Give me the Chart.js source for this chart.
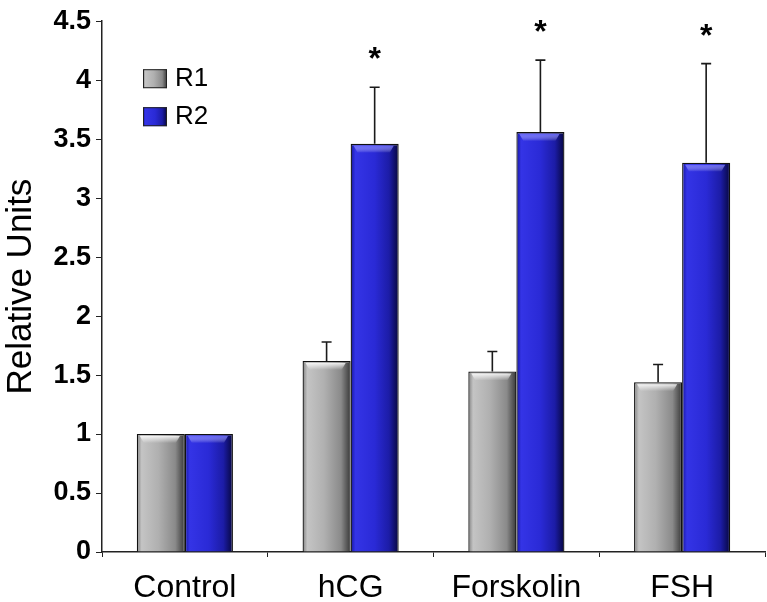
<!DOCTYPE html>
<html>
<head>
<meta charset="utf-8">
<script src="https://cdn.jsdelivr.net/npm/chart.js@4"></script>
<style>
  body { margin: 0; background: #fff; }
  #wrap { width: 767px; height: 602px; position: relative; }
</style>
</head>
<body>
<div id="wrap"><canvas id="chart"></canvas></div>
<script>
// values
const categories = ['Control', 'hCG', 'Forskolin', 'FSH'];
const r1Values = [1.0, 1.62, 1.53, 1.44];
const r2Values = [1.0, 3.46, 3.56, 3.30];
const r1Errors = [0, 0.16, 0.17, 0.15];
const r2Errors = [0, 0.48, 0.61, 0.84];
const r2Marks = ['', '*', '*', '*'];
const yTickLabels = ['0', '0.5', '1', '1.5', '2', '2.5', '3', '3.5', '4', '4.5'];

const FONT = "'Liberation Sans', Arial, sans-serif";

const grayStops = [[0, '#808080'], [0.1, '#c4c4c4'], [0.45, '#b0b0b0'], [0.8, '#8a8a8a'], [1, '#383838']];
const blueStops = [[0, '#1616a0'], [0.1, '#3434e6'], [0.5, '#2a2ad6'], [0.8, '#1c1ca6'], [1, '#06063e']];

function makeGradient(ctx, x0, x1, stops) {
    const g = ctx.createLinearGradient(x0, 0, x1, 0);
    stops.forEach(s => g.addColorStop(s[0], s[1]));
    return g;
}

// bevelled fill for the bars, set once the bars know where they are
const bevelPlugin = {
    id: 'bevel',
    beforeDatasetsDraw(chart) {
        const ctx = chart.ctx;
        chart.data.datasets.forEach((ds, di) => {
            const stops = di === 0 ? grayStops : blueStops;
            chart.getDatasetMeta(di).data.forEach(bar => {
                const left = bar.x - bar.width / 2;
                bar.options.backgroundColor = makeGradient(ctx, left, left + bar.width, stops);
            });
        });
    },
    afterDatasetsDraw(chart) {
        const ctx = chart.ctx;
        ctx.save();
        chart.data.datasets.forEach((ds, di) => {
            chart.getDatasetMeta(di).data.forEach(bar => {
                const left = bar.x - bar.width / 2;
                const g = ctx.createLinearGradient(0, bar.y + 2, 0, bar.y + 9);
                g.addColorStop(0, di === 0 ? 'rgba(255,255,255,0.85)' : 'rgba(110,110,255,0.85)');
                g.addColorStop(1, 'rgba(255,255,255,0)');
                ctx.fillStyle = g;
                ctx.beginPath();
                ctx.moveTo(left + 3, bar.y + 2);
                ctx.lineTo(left + bar.width - 5, bar.y + 2);
                ctx.lineTo(left + bar.width - 9, bar.y + 9);
                ctx.lineTo(left + 7, bar.y + 9);
                ctx.closePath();
                ctx.fill();
            });
        });
        ctx.restore();
    }
};

// upper error bars and significance marks
const errorPlugin = {
    id: 'errors',
    afterDatasetsDraw(chart) {
        const ctx = chart.ctx;
        const y = chart.scales.y;
        const errs = [r1Errors, r2Errors];
        ctx.save();
        ctx.strokeStyle = '#1a1a1a';
        ctx.lineWidth = 1.6;
        chart.data.datasets.forEach((ds, di) => {
            chart.getDatasetMeta(di).data.forEach((bar, i) => {
                const e = errs[di][i];
                if (!e) return;
                const top = y.getPixelForValue(ds.data[i] + e);
                ctx.beginPath();
                ctx.moveTo(bar.x, bar.y);
                ctx.lineTo(bar.x, top);
                ctx.moveTo(bar.x - 5, top);
                ctx.lineTo(bar.x + 5, top);
                ctx.stroke();
                if (di === 1 && r2Marks[i]) {
                    ctx.fillStyle = '#000';
                    ctx.font = 'bold 32px ' + FONT;
                    ctx.textAlign = 'center';
                    ctx.textBaseline = 'alphabetic';
                    ctx.fillText(r2Marks[i], bar.x, top - 18);
                }
            });
        });
        ctx.restore();
    }
};

// legend sits inside the plot, top left
const insideLegend = {
    id: 'insideLegend',
    afterDraw(chart) {
        const ctx = chart.ctx;
        const area = chart.chartArea;
        ctx.save();
        chart.data.datasets.forEach((ds, di) => {
            const bx = area.left + 41;
            const by = area.top + 48 + di * 38;
            ctx.fillStyle = makeGradient(ctx, bx, bx + 24, di === 0 ? grayStops : blueStops);
            ctx.fillRect(bx, by, 24, 19);
            ctx.strokeStyle = '#222';
            ctx.lineWidth = 1;
            ctx.strokeRect(bx + 0.5, by + 0.5, 23, 18);
            ctx.fillStyle = '#000';
            ctx.font = '26px ' + FONT;
            ctx.textAlign = 'left';
            ctx.textBaseline = 'middle';
            ctx.fillText(ds.label, bx + 32, by + 10);
        });
        ctx.restore();
    }
};

new Chart(document.getElementById('chart'), {
    type: 'bar',
    data: {
        labels: categories,
        datasets: [
            { label: 'R1', data: r1Values, backgroundColor: () => '#b0b0b0', borderColor: '#111', borderWidth: 1.3 },
            { label: 'R2', data: r2Values, backgroundColor: () => '#2a2ad4', borderColor: '#111', borderWidth: 1.3 }
        ]
    },
    options: {
        responsive: true,
        maintainAspectRatio: false,
        animation: false,
        layout: { padding: { top: 5, right: 2, left: 0, bottom: 0 } },
        datasets: { bar: { categoryPercentage: 0.58, barPercentage: 1.0 } },
        plugins: {
            legend: { display: false },
            tooltip: { enabled: false }
        },
        scales: {
            x: {
                afterFit(axis) { axis.height = 50; },
                grid: { drawOnChartArea: false, tickLength: 5, color: '#222', offset: true },
                border: { color: '#222', width: 1.5 },
                ticks: { color: '#000', padding: 12, font: { family: FONT, size: 32 } }
            },
            y: {
                min: 0,
                max: 4.5,
                afterFit(axis) { axis.width = 102; },
                grid: { drawOnChartArea: false, tickLength: 6, color: '#222' },
                border: { color: '#222', width: 1.5 },
                ticks: {
                    stepSize: 0.5,
                    color: '#000',
                    padding: 5,
                    font: { family: FONT, size: 27, weight: 'bold' },
                    callback: (v, i) => yTickLabels[i]
                },
                title: {
                    display: true,
                    text: 'Relative Units',
                    color: '#000',
                    padding: 0,
                    font: { family: FONT, size: 35 }
                }
            }
        }
    },
    plugins: [bevelPlugin, errorPlugin, insideLegend]
});
</script>
</body>
</html>
